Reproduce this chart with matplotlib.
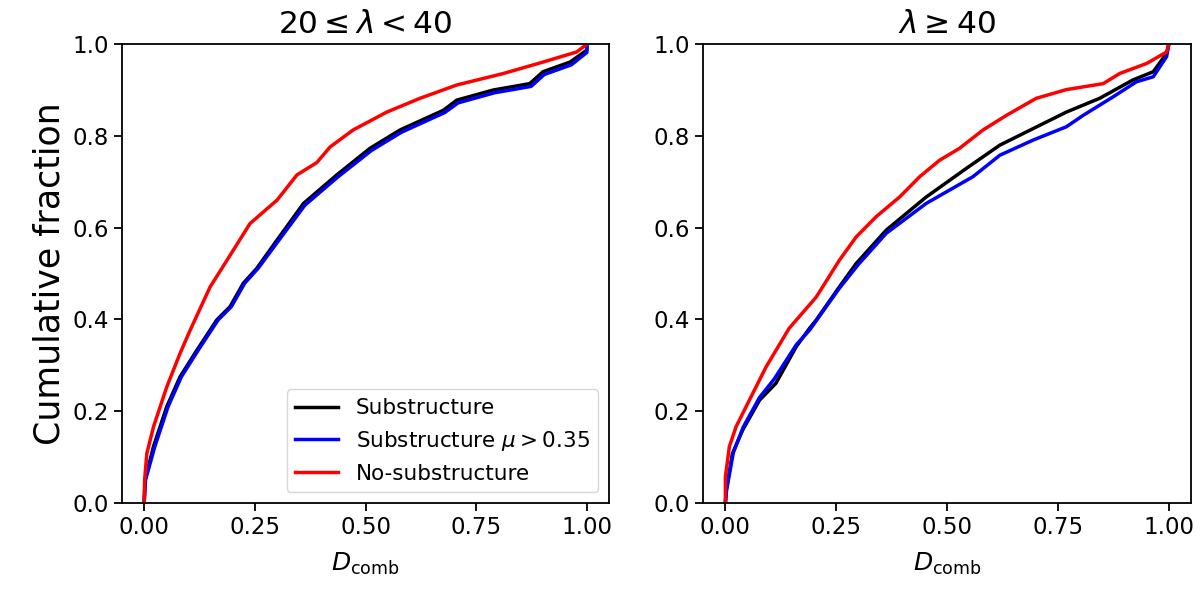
import matplotlib
matplotlib.use("Agg")
import matplotlib.pyplot as plt

# cumulative fraction vs D_comb
# panel 1: 20 <= lambda < 40
sub_x_1 = [0, 0.002, 0.021, 0.051, 0.081, 0.119, 0.149, 0.164, 0.194, 0.224, 0.254, 0.30,
           0.36, 0.435, 0.51, 0.578, 0.676, 0.706, 0.788, 0.871, 0.901, 0.962, 1.0, 1.0]
sub_y_1 = [0, 0.05, 0.123, 0.21, 0.275, 0.333, 0.377, 0.399, 0.428, 0.479, 0.511, 0.573,
           0.653, 0.715, 0.773, 0.813, 0.856, 0.878, 0.90, 0.914, 0.94, 0.961, 0.987, 1.0]
mu_x_1 = [0, 0.003, 0.024, 0.054, 0.084, 0.122, 0.152, 0.167, 0.197, 0.227, 0.257, 0.303,
          0.363, 0.438, 0.513, 0.581, 0.679, 0.709, 0.791, 0.874, 0.904, 0.965, 1.0, 1.0]
mu_y_1 = [0, 0.05, 0.123, 0.21, 0.275, 0.333, 0.377, 0.399, 0.428, 0.479, 0.511, 0.571,
          0.649, 0.711, 0.768, 0.808, 0.851, 0.872, 0.894, 0.908, 0.934, 0.955, 0.982, 1.0]
nosub_x_1 = [0, 0.001, 0.006, 0.021, 0.051, 0.081, 0.104, 0.149, 0.187, 0.239, 0.27, 0.30,
             0.345, 0.39, 0.42, 0.472, 0.548, 0.623, 0.706, 0.811, 0.901, 0.977, 1.0]
nosub_y_1 = [0, 0.05, 0.108, 0.166, 0.253, 0.326, 0.377, 0.471, 0.529, 0.609, 0.635, 0.66,
             0.715, 0.742, 0.776, 0.813, 0.852, 0.882, 0.911, 0.936, 0.961, 0.983, 1.0]

# panel 2: lambda >= 40
sub_x_2 = [0, 0.002, 0.016, 0.039, 0.077, 0.114, 0.16, 0.19, 0.205, 0.257, 0.295, 0.363,
           0.453, 0.543, 0.619, 0.694, 0.769, 0.844, 0.919, 0.965, 0.995, 1.0]
sub_y_2 = [0, 0.028, 0.108, 0.159, 0.224, 0.261, 0.341, 0.381, 0.399, 0.471, 0.522, 0.595,
           0.667, 0.729, 0.78, 0.816, 0.852, 0.882, 0.922, 0.94, 0.98, 1.0]
mu_x_2 = [0, 0.003, 0.018, 0.04, 0.077, 0.11, 0.16, 0.19, 0.257, 0.30, 0.363, 0.453,
          0.558, 0.619, 0.694, 0.769, 0.807, 0.874, 0.927, 0.965, 0.995, 1.0]
mu_y_2 = [0, 0.03, 0.11, 0.165, 0.23, 0.27, 0.345, 0.377, 0.468, 0.52, 0.588, 0.653,
          0.711, 0.758, 0.791, 0.82, 0.845, 0.885, 0.918, 0.929, 0.973, 1.0]
nosub_x_2 = [0, 0.0, 0.009, 0.024, 0.054, 0.092, 0.144, 0.205, 0.257, 0.295, 0.34, 0.393,
             0.438, 0.483, 0.528, 0.581, 0.634, 0.701, 0.769, 0.852, 0.889, 0.95, 0.995, 1.0]
nosub_y_2 = [0, 0.057, 0.123, 0.166, 0.224, 0.297, 0.381, 0.449, 0.529, 0.58, 0.624, 0.667,
             0.711, 0.747, 0.773, 0.813, 0.845, 0.882, 0.901, 0.914, 0.936, 0.958, 0.983, 1.0]

titles = [r'$20 \leq \lambda < 40$', r'$\lambda \geq 40$']
labels = ['Substructure', r'Substructure $\mu > 0.35$', 'No-substructure']
colors = ['black', 'blue', 'red']

panels = [
    [(sub_x_1, sub_y_1), (mu_x_1, mu_y_1), (nosub_x_1, nosub_y_1)],
    [(sub_x_2, sub_y_2), (mu_x_2, mu_y_2), (nosub_x_2, nosub_y_2)],
]

fig = plt.figure(figsize=(12, 5.89), dpi=100)
ax1 = fig.add_axes([0.1017, 0.146, 0.4058, 0.779])
ax2 = fig.add_axes([0.586, 0.146, 0.4065, 0.779])

for ax, title, curves in zip([ax1, ax2], titles, panels):
    for (x, y), lab, c in zip(curves, labels, colors):
        ax.plot(x, y, color=c, lw=2.5, label=lab)
    ax.set_ylim(0, 1)
    ax.set_xticks([0, 0.25, 0.5, 0.75, 1.0])
    ax.set_xlabel(r'$D_\mathrm{comb}$', fontsize=18, labelpad=8)
    ax.set_title(title, fontsize=22.5, pad=8)
    ax.tick_params(labelsize=16.5, width=1.3, length=6)
    for s in ax.spines.values():
        s.set_linewidth(1.3)

ax1.set_ylabel('Cumulative fraction', fontsize=25)
ax1.legend(loc='lower right', fontsize=15.5, handlelength=2.0)

fig.savefig('out.png', dpi=100)
